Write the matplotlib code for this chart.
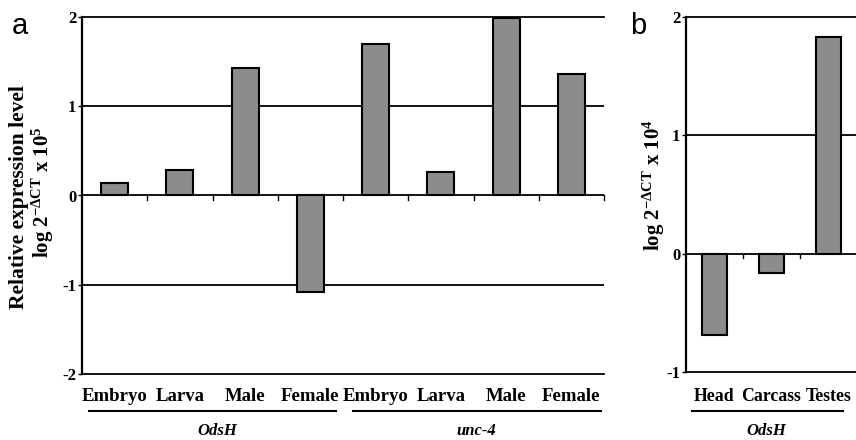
import matplotlib
matplotlib.use("Agg")
import matplotlib.pyplot as plt
import matplotlib.transforms as mtransforms

plt.rcParams["font.family"] = ["Liberation Serif", "DejaVu Serif"]
plt.rcParams["font.weight"] = "bold"
plt.rcParams["mathtext.fontset"] = "custom"
plt.rcParams["mathtext.rm"] = "Liberation Serif:bold"
plt.rcParams["mathtext.it"] = "Liberation Serif:bold:italic"
plt.rcParams["mathtext.bf"] = "Liberation Serif:bold"

# ---- data ----
stages = ["Embryo", "Larva", "Male", "Female"]
odsh_stage = [0.14, 0.29, 1.43, -1.08]
unc4_stage = [1.70, 0.26, 1.99, 1.36]
tissues = ["Head", "Carcass", "Testes"]
odsh_tissue = [-0.69, -0.16, 1.83]

BAR = "#8c8c8c"
W, H = 856, 440

fig = plt.figure(figsize=(W / 100, H / 100), dpi=100)


def fx(px):
    return px / W


def fy(py):
    return 1 - py / H


def style(ax, ylo, yhi, ncat):
    ax.set_xlim(0, ncat)
    ax.set_ylim(ylo, yhi)
    ax.spines["right"].set_visible(False)
    ax.spines["left"].set_linewidth(1.6)
    ax.spines["top"].set_linewidth(1.3)
    ax.spines["bottom"].set_linewidth(1.3)
    for v in range(ylo + 1, yhi):
        if v != 0:
            ax.axhline(v, color="black", lw=1.3, zorder=1)
    ax.axhline(0, color="black", lw=1.3, zorder=3)
    # small ticks at category boundaries on the zero line
    for b in range(1, ncat + 1):
        ax.plot([b, b], [0, 0 - (yhi - ylo) * 0.012], color="black", lw=1.0,
                zorder=3, clip_on=False)
    ax.set_yticks(range(ylo, yhi + 1))
    ax.set_yticklabels([str(v) for v in range(ylo, yhi + 1)], fontsize=12,
                       fontweight="bold")
    ax.tick_params(axis="y", length=3, width=1, pad=1)
    ax.set_xticks([])


# ---- panel a ----
axa = fig.add_axes([fx(82), fy(374), fx(604) - fx(82), fy(17) - fy(374)])
cats_a = stages + stages
vals_a = odsh_stage + unc4_stage
xa = [i + 0.5 for i in range(len(cats_a))]
axa.bar(xa, vals_a, width=0.41, color=BAR, edgecolor="black", lw=1.5, zorder=2)
style(axa, -2, 2, len(cats_a))

tra = mtransforms.blended_transform_factory(axa.transData, fig.transFigure)
for x, lab in zip(xa, cats_a):
    axa.text(x, fy(396), lab, transform=tra, ha="center", va="center",
             fontsize=13.5, fontweight="bold")
axa.plot([0.1, 3.9], [fy(411), fy(411)], transform=tra, color="black", lw=1.5,
         clip_on=False)
axa.plot([4.15, 7.95], [fy(411), fy(411)], transform=tra, color="black", lw=1.5,
         clip_on=False)
axa.text(2.08, fy(431), "OdsH", transform=tra, ha="center", va="center",
         fontsize=12, fontweight="bold", fontstyle="italic")
axa.text(6.05, fy(431), "unc-4", transform=tra, ha="center", va="center",
         fontsize=12, fontweight="bold", fontstyle="italic")

fig.text(fx(19), fy(197), "Relative expression level", rotation=90,
         ha="center", va="center", fontsize=15.5, fontweight="bold")
fig.text(fx(43), fy(192), r"log 2$^{\mathrm{-ΔCT}}$ x 10$^{5}$", rotation=90,
         ha="center", va="center", fontsize=15, fontweight="bold")
fig.text(fx(12), fy(26), "a", family="Liberation Sans", fontsize=21,
         fontweight="normal", ha="left", va="center")

# ---- panel b ----
axb = fig.add_axes([fx(686), fy(372), fx(857) - fx(686), fy(17) - fy(372)])
xb = [i + 0.5 for i in range(len(tissues))]
axb.bar(xb, odsh_tissue, width=0.45, color=BAR, edgecolor="black", lw=1.5, zorder=2)
style(axb, -1, 2, len(tissues))

trb = mtransforms.blended_transform_factory(axb.transData, fig.transFigure)
for x, lab in zip(xb, tissues):
    axb.text(x, fy(396), lab, transform=trb, ha="center", va="center",
             fontsize=12.8, fontweight="bold")
axb.plot([0.1, 2.75], [fy(411), fy(411)], transform=trb, color="black", lw=1.5,
         clip_on=False)
axb.text(1.4, fy(431), "OdsH", transform=trb, ha="center", va="center",
         fontsize=12, fontweight="bold", fontstyle="italic")

fig.text(fx(654), fy(185), r"log 2$^{\mathrm{-ΔCT}}$ x 10$^{4}$", rotation=90,
         ha="center", va="center", fontsize=15, fontweight="bold")
fig.text(fx(630), fy(26), "b", family="Liberation Sans", fontsize=21,
         fontweight="normal", ha="left", va="center")

fig.savefig("out.png", dpi=100)
